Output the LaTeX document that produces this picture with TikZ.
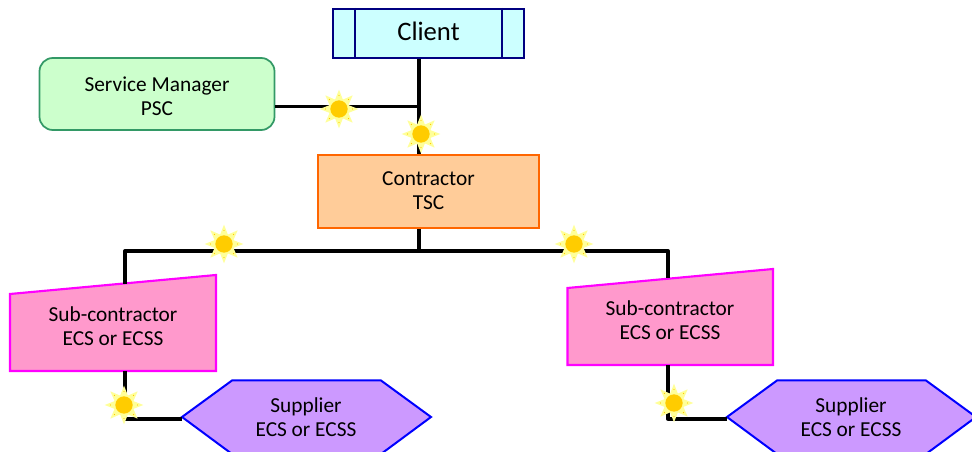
\documentclass[tikz,border=0pt]{standalone}
\usepackage{fontspec}
\setmainfont{Carlito}
\usetikzlibrary{shapes.geometric}
\definecolor{cfill}{HTML}{CCFFFF}
\definecolor{cline}{HTML}{000080}
\definecolor{gfill}{HTML}{CCFFCC}
\definecolor{gline}{HTML}{339966}
\definecolor{ofill}{HTML}{FFCC99}
\definecolor{oline}{HTML}{FF6600}
\definecolor{pfill}{HTML}{FF99CC}
\definecolor{pline}{HTML}{FF00FF}
\definecolor{vfill}{HTML}{CC99FF}
\definecolor{vline}{HTML}{0000FF}
\definecolor{sunray}{HTML}{FFFF99}
\definecolor{sundisc}{HTML}{FFCC00}
\tikzset{
  lblfont/.style={font=\fontsize{16pt}{18pt}\selectfont},
  lbl/.style={align=center,lblfont,text=black,inner sep=0pt},
  wire/.style={line width=2.5pt,black,line join=round},
  clientbox/.style={draw=cline,fill=cfill,line width=1.5pt,minimum width=143.25pt,minimum height=36.75pt,inner sep=0pt},
  pscbox/.style={draw=gline,fill=gfill,line width=1.3pt,rounded corners=10pt,minimum width=176.25pt,minimum height=54pt,inner sep=0pt},
  tscbox/.style={draw=oline,fill=ofill,line width=1.3pt,minimum width=165.75pt,minimum height=54.75pt,inner sep=0pt},
  subshape/.style={draw=pline,fill=pfill,line width=1.6pt,line join=miter},
  hexshape/.style={draw=vline,fill=vfill,line width=1.5pt,line join=miter},
  sunstar/.style={star,star points=8,star point ratio=1.9,minimum size=29pt,inner sep=0pt,fill=sunray,draw=none},
  sundot/.style={circle,minimum size=13pt,inner sep=0pt,fill=sundisc,draw=none},
}
\newcommand{\sunat}[2]{%
  \node[sunstar] (#2r) at (#1) {};
  \foreach \a in {0,45,...,315} {\fill[sundisc] (#1) ++(\a:13.5) circle (0.5pt);}
  \node[sundot] (#2d) at (#1) {};
}
\begin{document}
\begin{tikzpicture}[x=0.75pt,y=-0.75pt]
\useasboundingbox (0,0) rectangle (972,452);
% shapes
\node[clientbox] (client) at (428.5,33.5) {};
\node[inner sep=0pt,font=\fontsize{20pt}{24pt}\selectfont] (clientl) at (428.5,31.5) {Client};
\draw[cline,line width=1.3pt] (client.north west) ++(23,0) -- ++(0,49);
\draw[cline,line width=1.3pt] (client.north east) ++(-23,0) -- ++(0,49);
\node[pscbox] (psc) at (157,94) {};
\node[lbl] (pscl) at (157,96) {Service Manager\\PSC};
\node[tscbox] (tsc) at (428.5,191.5) {};
\node[lbl] (tscl) at (428.5,190.5) {Contractor\\TSC};
\draw[subshape] (10,294) -- (216,275) -- (216,371) -- (10,371) -- cycle;
\node[lbl] (subl) at (113,326) {Sub-contractor\\ECS or ECSS};
\draw[subshape] (567.5,288) -- (773,269) -- (773,365) -- (567.5,365) -- cycle;
\node[lbl] (subr) at (670,320) {Sub-contractor\\ECS or ECSS};
\begin{scope}
\clip (0,0) rectangle (972,452);
\draw[hexshape] (182,417) -- (232,380.5) -- (381,380.5) -- (431,417) -- (381,454) -- (232,454) -- cycle;
\draw[hexshape] (727,417) -- (777,380.5) -- (926,380.5) -- (976,417) -- (926,454) -- (777,454) -- cycle;
\end{scope}
\node[lbl] (supl) at (306,417) {Supplier\\ECS or ECSS};
\node[lbl] (supr) at (851,417) {Supplier\\ECS or ECSS};
% anchors on the drawn outlines
\coordinate (subltop) at (125,284);
\coordinate (sublbot) at (125,371);
\coordinate (subrtop) at (668,278);
\coordinate (subrbot) at (668,365);
\coordinate (supltip) at (182,419);
\coordinate (suprtip) at (727,419);
\coordinate (bus) at (419,251);
\coordinate (tee) at (419,106.5);
% connectors
\draw[wire] (client.south -| tee) -- (tee) -- (tsc.north -| tee);
\draw[wire] (psc.east |- tee) -- (tee);
\draw[wire] (tsc.south -| bus) -- (bus);
\draw[wire] (subltop) -- (subltop |- bus) -- (subrtop |- bus) -- (subrtop);
\draw[wire] (sublbot) -- (sublbot |- supltip) -- (supltip);
\draw[wire] (subrbot) -- (subrbot |- suprtip) -- (suprtip);
% suns
\sunat{339,109}{suna}
\sunat{421,134}{sunb}
\sunat{224,244}{sunc}
\sunat{574,244}{sund}
\sunat{124,405}{sune}
\sunat{674,403}{sunf}
\end{tikzpicture}
\end{document}
